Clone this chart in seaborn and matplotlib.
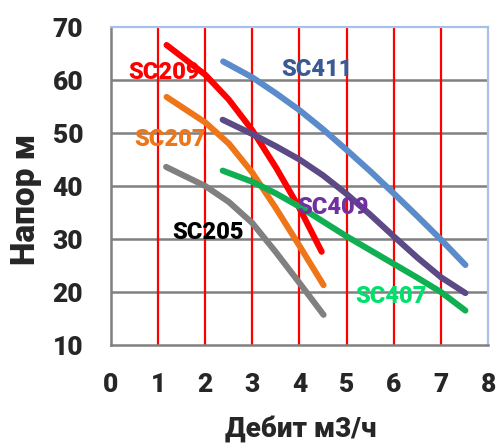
import numpy as np
import pandas as pd
import matplotlib
matplotlib.use("Agg")
import matplotlib.pyplot as plt
import seaborn as sns

# ── Данные ────────────────────────────────────────────────────────────────────
SC209_X = [1.18, 2.0, 2.5, 3.0, 3.5, 4.0, 4.47]
SC209_Y = [66.6, 61.0, 56.3, 50.5, 43.5, 35.8, 27.6]
SC207_X = [1.18, 2.0, 2.5, 3.0, 3.5, 4.0, 4.51]
SC207_Y = [56.8, 52.0, 48.0, 42.5, 35.8, 28.7, 21.3]
SC205_X = [1.17, 2.0, 2.5, 3.0, 3.5, 4.0, 4.51]
SC205_Y = [43.6, 40.0, 37.0, 33.0, 27.5, 21.7, 15.7]
SC411_X = [2.38, 3.0, 3.5, 4.0, 4.5, 5.0, 5.5, 6.0, 6.5, 7.0, 7.52]
SC411_Y = [63.5, 60.5, 57.5, 54.3, 50.7, 46.8, 42.8, 38.6, 34.3, 29.9, 25.1]
SC409_X = [2.37, 3.0, 3.5, 4.0, 4.5, 5.0, 5.5, 6.0, 6.5, 7.0, 7.52]
SC409_Y = [52.5, 49.8, 47.5, 45.0, 42.0, 38.5, 34.6, 30.5, 26.5, 22.8, 19.8]
SC407_X = [2.37, 3.0, 3.5, 4.0, 4.5, 5.0, 5.5, 6.0, 6.5, 7.0, 7.52]
SC407_Y = [42.9, 40.8, 38.6, 36.1, 33.3, 30.5, 27.9, 25.3, 22.7, 20.0, 16.5]

PUMPS = ["SC209", "SC207", "SC205", "SC411", "SC409", "SC407"]
LINE_COLORS = ["#FF0000", "#EE7518", "#808080", "#5A8BCB", "#5B4A86", "#10B052"]
LABEL_COLORS = ["#FF0000", "#EE7518", "#000000", "#3A5A94", "#7030A0", "#00E06A"]
LABEL_POS = [(1.13, 61.5), (1.25, 48.7), (2.06, 31.3), (4.37, 61.9), (4.7, 36.0), (5.95, 19.1)]

xs = [SC209_X, SC207_X, SC205_X, SC411_X, SC409_X, SC407_X]
ys = [SC209_Y, SC207_Y, SC205_Y, SC411_Y, SC409_Y, SC407_Y]
df = pd.concat([pd.DataFrame({"x": x, "y": y, "pump": p}) for p, x, y in zip(PUMPS, xs, ys)],
               ignore_index=True)

sns.set_style("white")
plt.rcParams["font.family"] = ["Roboto", "DejaVu Sans"]

fig = plt.figure(figsize=(4.99, 4.45), dpi=100)
ax = fig.add_axes([0.2224, 0.2247, 0.978 - 0.2224, 0.9393 - 0.2247])

# сетка
for v in range(1, 8):
    ax.axvline(v, color="#FF0000", lw=1.6, zorder=1)
for h in range(20, 70, 10):
    ax.axhline(h, color="#808080", lw=1.8, zorder=0.5)

sns.lineplot(data=df, x="x", y="y", hue="pump", palette=dict(zip(PUMPS, LINE_COLORS)),
             sort=False, lw=4.4, ax=ax, legend=False, zorder=3,
             solid_capstyle="round", solid_joinstyle="round")

for p, c, (lx, ly) in zip(PUMPS, LABEL_COLORS, LABEL_POS):
    ax.text(lx, ly, p, color=c, fontsize=17, fontweight="heavy",
            ha="center", va="center", zorder=4)

ax.set_xlim(0, 8)
ax.set_ylim(10, 70)
ax.set_xticks(range(0, 9))
ax.set_yticks(range(10, 80, 10))
ax.tick_params(axis="both", labelsize=19, length=8, width=1.8, color="#808080",
               direction="out", pad=12)
for lab in ax.get_xticklabels() + ax.get_yticklabels():
    lab.set_fontweight("heavy")

for s in ["left", "bottom"]:
    ax.spines[s].set_color("#808080")
    ax.spines[s].set_linewidth(1.8)
for s in ["top", "right"]:
    ax.spines[s].set_color("#A8C0E6")
    ax.spines[s].set_linewidth(1.6)

ax.set_xlabel("Дебит м3/ч", fontsize=20, fontweight="heavy")
ax.set_ylabel("Напор м", fontsize=24, fontweight="heavy")
ax.xaxis.set_label_coords(0.504, -0.223)
ax.yaxis.set_label_coords(-0.183, 0.459)

fig.savefig("out.png", dpi=100)
